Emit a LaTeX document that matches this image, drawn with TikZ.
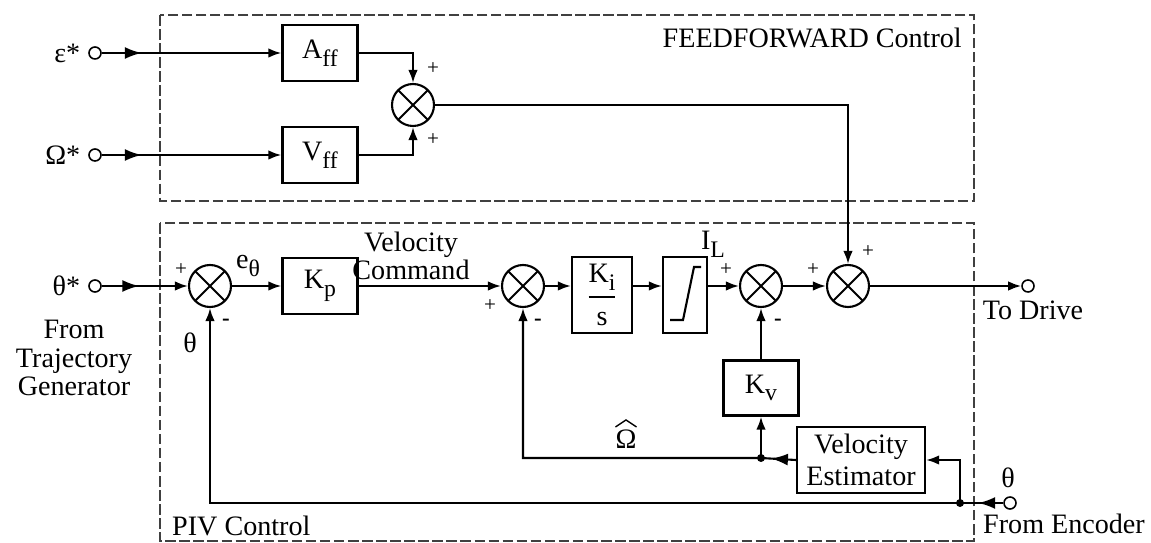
\documentclass[tikz,border=0pt]{standalone}
\usepackage{fontspec}
\setmainfont{Liberation Serif}
\usepackage{amsmath}
\usetikzlibrary{arrows.meta,positioning,decorations.markings}
\newcommand{\lowsub}[1]{\raisebox{-0.6ex}{\fontsize{13.5}{13.5}\selectfont #1}}

\begin{document}
\begin{tikzpicture}[x=0.02cm, y=-0.02cm, font=\fontsize{16}{18}\selectfont,
  blk/.style={draw, line width=1.3pt, inner sep=0pt, minimum width=1.5cm, minimum height=1.12cm},
  sumj/.style={draw, circle, line width=1.2pt, minimum size=0.84cm, inner sep=0pt,
    path picture={\draw[line width=1.1pt] (path picture bounding box.north west) -- (path picture bounding box.south east)
      (path picture bounding box.north east) -- (path picture bounding box.south west);}},
  term/.style={draw, circle, line width=0.9pt, minimum size=0.24cm, inner sep=0pt, fill=white},
  dot/.style={circle, fill, minimum size=0.16cm, inner sep=0pt},
  frame/.style={draw, line width=0.6pt, dash pattern=on 6pt off 2pt, black!75},
  ln/.style={line width=1.2pt},
  arr/.style={ln, -{Latex[length=2.6mm, width=1.9mm]}},
  midarr/.style={postaction={decorate}, decoration={markings,
    mark=at position #1 with {\arrow[line width=1.2pt]{Latex[length=3.4mm, width=2.4mm]}}}},
  sgn/.style={font=\fontsize{12}{12}\selectfont, inner sep=0pt},
  neg/.style={font=\fontsize{13}{13}\selectfont\bfseries, inner sep=0pt}]
  \useasboundingbox[fill=white] (0,0) rectangle (1151,543);
  \draw[frame] (160,15) rectangle (974,201);
  \draw[frame] (160,223) rectangle (974,541);
  \node[anchor=base east] (fflabel) at (968,48) {FEEDFORWARD Control};
  \node[anchor=base west] (pivlabel) at (166,535) {PIV Control};

  \node[term] (eps) at (95,53) {};
  \node[left=1pt of eps] (epslabel) {ε*};
  \node[term] (om) at (95,155) {};
  \node[left=1pt of om] (omlabel) {Ω*};
  \node[blk] (aff) at (320,53) {A\lowsub{ff}};
  \node[blk] (vff) at (320,155) {V\lowsub{ff}};
  \node[sumj] (s0) at (413,105) {};
  \node[sgn] at (433,69) {+};
  \node[sgn] at (433,140) {+};
  \draw[arr, midarr=0.8cm] (eps) -- (aff);
  \draw[arr, midarr=0.8cm] (om) -- (vff);
  \draw[arr] (aff.east) -| (s0.north);
  \draw[arr] (vff.east) -| (s0.south);

  \node[term] (thref) at (95,286) {};
  \node[left=1pt of thref] (thlabel) {θ*};
  \node[align=center, font=\fontsize{16}{16.2}\selectfont] (trajlabel) at (74,358) {From\\Trajectory\\Generator};
  \node[sumj] (s1) at (210,286) {};
  \node[sgn] at (181,270) {+};
  \node[neg] at (226,322) {-};
  \node (thfb) at (190,343) {θ};
  \node (etheta) at (248,266) {e\lowsub{θ}};
  \node[blk] (kp) at (320,286) {K\lowsub{p}};
  \node[align=center, font=\fontsize{16}{15.5}\selectfont] (vcmd) at (411,256) {Velocity\\Command};
  \node[sumj] (s2) at (523,286) {};
  \node[sgn] at (490,306) {+};
  \node[neg] at (538,322) {-};
  \node[blk, minimum width=1.2cm, minimum height=1.52cm] (ki) at (602,295)
    {$\genfrac{}{}{1pt}{0}{\text{K\lowsub{i}}}{\text{s}}$};
  \node[blk, minimum width=0.88cm, minimum height=1.52cm] (sat) at (685,295) {};
  \draw[ln] ([shift={(-15,25)}]sat.center) -- ++(13,0) -- ++(11,-53) -- ++(7,0);
  \node (il) at (713,244) {I\lowsub{L}};
  \node[sgn] at (726,270) {+};
  \node[sumj] (s3) at (761,286) {};
  \node[neg] at (778,322) {-};
  \node[blk, minimum height=1.1cm] (kv) at (761,388) {K\lowsub{v}};
  \node[sumj] (s4) at (848,286) {};
  \node[sgn] at (813,270) {+};
  \node[sgn] at (868,252) {+};
  \node[term] (drive) at (1028,286) {};
  \node (drivelabel) at (1033,310) {To Drive};
  \node[blk, minimum width=2.56cm, minimum height=1.32cm, align=center] (vest) at (861,460) {Velocity\\Estimator};
  \node[term] (enc) at (1010,503) {};
  \node (thenc) at (1008,478) {θ};
  \node (enclabel) at (1064,524) {From Encoder};
  \node[dot] (j1) at (960,503) {};
  \node[dot] (j2) at (761,458) {};
  \node (omhat) at (626,439) {Ω};
  \draw[line width=0.8pt] ([shift={(-6pt,-2pt)}]omhat.north) -- ([yshift=2pt]omhat.north) -- ([shift={(6pt,-2pt)}]omhat.north);

  \draw[arr, midarr=0.75cm] (thref) -- (s1);
  \draw[arr] (s1) -- (kp);
  \draw[arr] (kp) -- (s2);
  \draw[arr] (s2) -- (s2 -| ki.west);
  \draw[arr] (ki.east |- s2) -- (sat.west |- s2);
  \draw[arr] (sat.east |- s3) -- (s3);
  \draw[arr] (s3) -- (s4);
  \draw[arr] (s4) -- (drive);
  \draw[arr] (s0) -| (s4);
  \draw[arr] (kv) -- (s3);
  \draw[arr, midarr=0.5cm] (enc) -- (j1.center) -| (s1.south);
  \draw[arr] (j1.center) |- (vest.east);
  \draw[arr, midarr=0.5cm] (vest.west) -- (j2.center) -| (s2.south);
  \draw[arr] (j2.center) -- (kv);
\end{tikzpicture}
\end{document}
